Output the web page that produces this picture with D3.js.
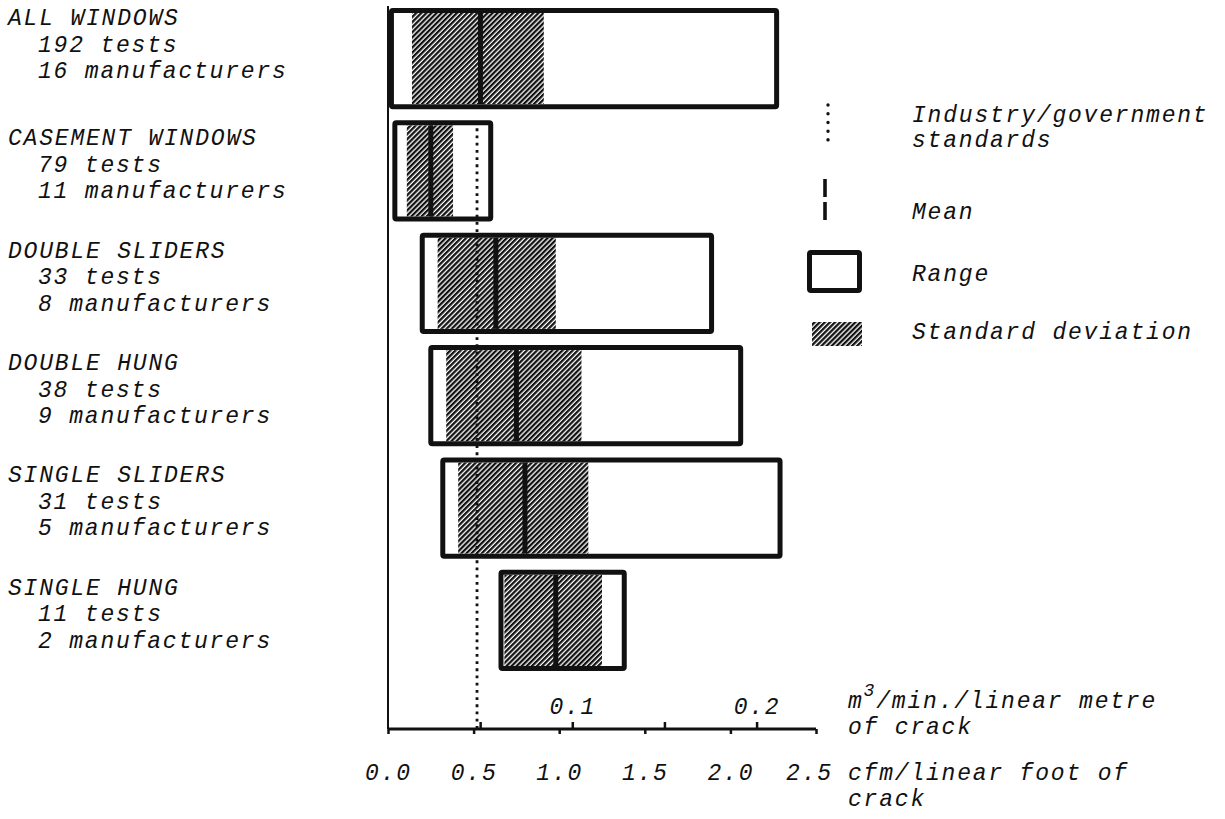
<!DOCTYPE html>
<html>
<head>
<meta charset="utf-8">
<script src="https://cdn.jsdelivr.net/npm/d3@7/dist/d3.min.js"></script>
<style>
  html, body { margin: 0; padding: 0; background: #fff; }
  svg text { font-family: "Liberation Mono", "DejaVu Sans Mono", monospace; font-style: italic; font-size: 23px; letter-spacing: 1.8px; fill: #111; }
</style>
</head>
<body>
<svg id="chart" width="1225" height="819"></svg>
<script>
// Air leakage of windows, by type (cfm per linear foot of crack)
const categories = ["ALL WINDOWS", "CASEMENT WINDOWS", "DOUBLE SLIDERS", "DOUBLE HUNG", "SINGLE SLIDERS", "SINGLE HUNG"];
const tests = [192, 79, 33, 38, 31, 11];
const manufacturers = [16, 11, 8, 9, 5, 2];
const rangeMin = [0.02, 0.04, 0.20, 0.25, 0.32, 0.66];
const rangeMax = [2.27, 0.60, 1.89, 2.06, 2.29, 1.38];
const sdLow = [0.14, 0.11, 0.29, 0.34, 0.41, 0.68];
const sdHigh = [0.91, 0.38, 0.98, 1.13, 1.17, 1.25];
const means = [0.54, 0.25, 0.63, 0.75, 0.80, 0.98];
const standard = 0.52;
const cfmTicks = [0.0, 0.5, 1.0, 1.5, 2.0, 2.5];
const m3Ticks = [0.05, 0.1, 0.15, 0.2];
const m3Labelled = [0.1, 0.2];
const CFM_TO_M3 = 0.0929; // 1 cfm/ft = 0.0929 m3/min/m

const rows = categories.map((c, i) => ({
  cat: c, tests: tests[i], makers: manufacturers[i],
  min: rangeMin[i], max: rangeMax[i], lo: sdLow[i], hi: sdHigh[i], mean: means[i]
}));

const svg = d3.select("#chart");
const axisY = 729;

const x = d3.scaleLinear().domain([0, 2.5]).range([388, 816]);
const xm3 = d3.scaleLinear().domain([0, 2.5 * CFM_TO_M3]).range([388, 816]);
const y = d3.scaleBand().domain(categories).range([8, 671]).paddingInner(0.1);

// diagonal hatching for the standard-deviation band
const defs = svg.append("defs");
defs.append("pattern")
  .attr("id", "hatch").attr("patternUnits", "userSpaceOnUse")
  .attr("width", 3.6).attr("height", 4)
  .attr("patternTransform", "rotate(45)")
  .append("rect").attr("x", 0).attr("y", 0).attr("width", 2.3).attr("height", 4).attr("fill", "#111");

const SW = 5; // range box border
const bw = y.bandwidth();

const g = svg.append("g");
const row = g.selectAll("g.row").data(rows).join("g").attr("class", "row");

// standard deviation band
row.append("rect")
  .attr("x", d => x(d.lo))
  .attr("y", d => y(d.cat) + SW)
  .attr("width", d => x(d.hi) - x(d.lo))
  .attr("height", bw - 2 * SW)
  .attr("fill", "url(#hatch)");

// mean
row.append("line")
  .attr("x1", d => x(d.mean)).attr("x2", d => x(d.mean))
  .attr("y1", d => y(d.cat) + SW).attr("y2", d => y(d.cat) + bw - SW)
  .attr("stroke", "#111").attr("stroke-width", 5);

// range box
row.append("rect")
  .attr("x", d => x(d.min))
  .attr("y", d => y(d.cat) + SW / 2)
  .attr("width", d => x(d.max) - x(d.min))
  .attr("height", bw - SW)
  .attr("fill", "none").attr("stroke", "#111").attr("stroke-width", SW)
  .attr("rx", 1.5);

// industry / government standard
g.append("line")
  .attr("x1", x(standard)).attr("x2", x(standard))
  .attr("y1", y(categories[1]) + 8).attr("y2", axisY)
  .attr("stroke", "#111").attr("stroke-width", 2.8)
  .attr("stroke-dasharray", "2.8,4.4");

// category labels
const labelOffset = (i) => (i === 0 ? 17 : 25);
row.each(function (d, i) {
  const t = d3.select(this).append("text").attr("y", y(d.cat) + labelOffset(i));
  t.append("tspan").attr("x", 8).text(d.cat);
  t.append("tspan").attr("x", 38).attr("dy", 26.5).text(`${d.tests} tests`);
  t.append("tspan").attr("x", 38).attr("dy", 26.5).text(`${d.makers} manufacturers`);
});

// vertical axis line
svg.append("line").attr("x1", 388).attr("x2", 388).attr("y1", 6).attr("y2", axisY)
  .attr("stroke", "#111").attr("stroke-width", 2);

// lower axis: cfm / linear foot
const axB = svg.append("g").attr("transform", `translate(0,${axisY})`)
  .call(d3.axisBottom(x).tickValues(cfmTicks).tickSize(5).tickFormat(d3.format(".1f")));
axB.select(".domain").attr("stroke", "#111").attr("stroke-width", 3).attr("d", `M${x(0)},0H${x(2.5)}`);
axB.selectAll(".tick line").attr("stroke", "#111").attr("stroke-width", 2.5);
axB.selectAll(".tick text").attr("y", 51).attr("dy", 0)
  .attr("dx", (d, i, n) => (i === n.length - 1 ? -7 : 0));
axB.attr("font-size", null).attr("font-family", null);

// upper axis: m3 / min / linear metre
const axT = svg.append("g").attr("transform", `translate(0,${axisY})`)
  .call(d3.axisTop(xm3).tickValues(m3Ticks).tickSize(7)
    .tickFormat(d => m3Labelled.includes(d) ? d3.format(".1f")(d) : ""));
axT.select(".domain").remove();
axT.selectAll(".tick line").attr("stroke", "#111").attr("stroke-width", 2.5);
axT.selectAll(".tick text").attr("y", -15).attr("dy", 0);
axT.attr("font-size", null).attr("font-family", null);

// axis titles
const t1 = svg.append("text").attr("x", 848).attr("y", 708);
t1.append("tspan").text("m");
t1.append("tspan").attr("dy", -12).style("font-size", "18px").text("3");
t1.append("tspan").attr("dy", 12).text("/min./linear metre");
svg.append("text").attr("x", 848).attr("y", 734).text("of crack");
svg.append("text").attr("x", 848).attr("y", 780).text("cfm/linear foot of");
svg.append("text").attr("x", 848).attr("y", 806).text("crack");

// legend
const lg = svg.append("g");
lg.append("line").attr("x1", 828).attr("x2", 828).attr("y1", 105).attr("y2", 142)
  .attr("stroke", "#111").attr("stroke-width", 3.4).attr("stroke-linecap", "round")
  .attr("stroke-dasharray", "0.1,8.6");
lg.append("text").attr("x", 912).attr("y", 122).text("Industry/government");
lg.append("text").attr("x", 912).attr("y", 147).text("standards");

lg.append("line").attr("x1", 825).attr("x2", 825).attr("y1", 179).attr("y2", 197)
  .attr("stroke", "#111").attr("stroke-width", 3.6);
lg.append("line").attr("x1", 825).attr("x2", 825).attr("y1", 202).attr("y2", 220)
  .attr("stroke", "#111").attr("stroke-width", 3.6);
lg.append("text").attr("x", 912).attr("y", 219).text("Mean");

lg.append("rect").attr("x", 809.5).attr("y", 252.5).attr("width", 50).attr("height", 38)
  .attr("fill", "none").attr("stroke", "#111").attr("stroke-width", 5).attr("rx", 1.5);
lg.append("text").attr("x", 912).attr("y", 281).text("Range");

lg.append("rect").attr("x", 812).attr("y", 322).attr("width", 50).attr("height", 24)
  .attr("fill", "url(#hatch)");
lg.append("text").attr("x", 912).attr("y", 339).text("Standard deviation");
</script>
</body>
</html>
